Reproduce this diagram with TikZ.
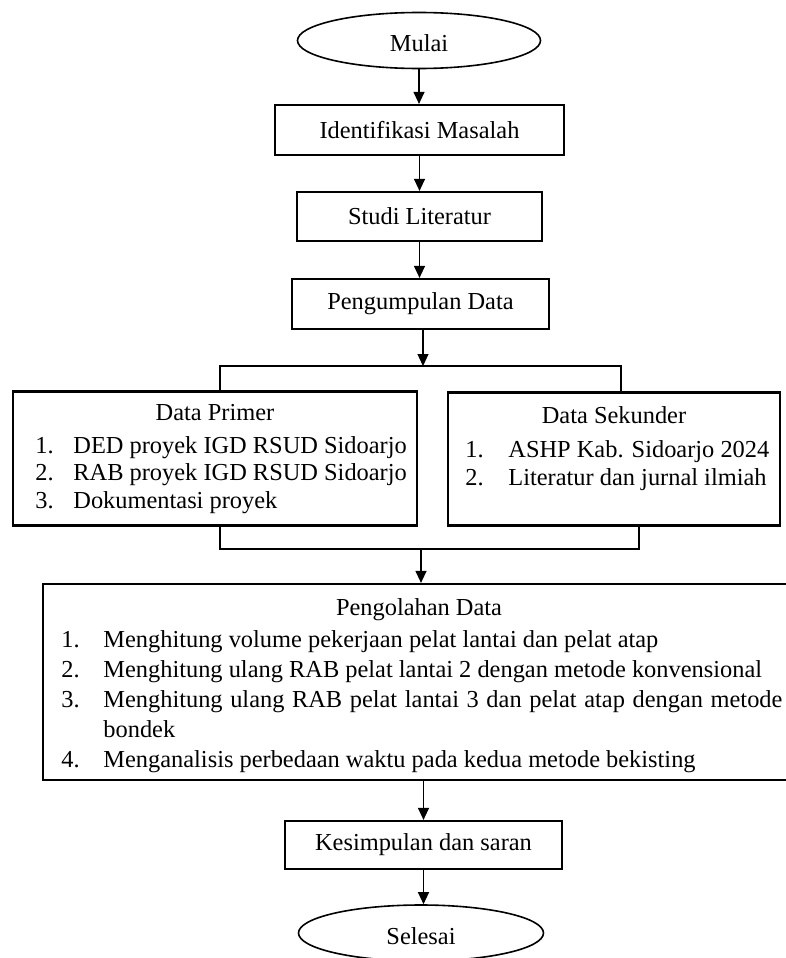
\documentclass[tikz,border=0pt]{standalone}
\usepackage{fontspec}
\setmainfont{Liberation Serif}
\usetikzlibrary{shapes.geometric,arrows.meta}
\begin{document}
\begin{tikzpicture}[x=0.5pt,y=-0.5pt,
  font=\fontsize{12.2}{14}\selectfont,
  box/.style={draw, rectangle, line width=1.1pt, inner sep=0pt},
  term/.style={draw, ellipse, line width=0.8pt, inner sep=0pt, text height=11.3pt, text depth=0pt},
  conn/.style={line width=0.6pt},
  arr/.style={conn, -{Triangle[width=5.5pt,length=6pt]}},
  lbl/.style={inner sep=0pt, anchor=base west},
  ttl/.style={inner sep=0pt, anchor=base}]
\useasboundingbox (0,0) rectangle (786,958);
\fill[white] (0,0) rectangle (786,958);

% main nodes
\node[term, minimum width=121.5pt, minimum height=28pt] (mulai) at (419,40.5) {Mulai};
\node[box, minimum width=144.5pt, minimum height=25pt] (ident) at (419.5,130) {Identifikasi Masalah};
\node[box, minimum width=122.5pt, minimum height=24.5pt] (studi) at (419.5,216.5) {Studi Literatur};
\node[box, minimum width=128.5pt, minimum height=25pt] (kumpul) at (420.5,304) {Pengumpulan Data};
\node[box, minimum width=202pt, minimum height=67pt] (primer) at (215,458.5) {};
\node[box, minimum width=166pt, minimum height=66.5pt] (sekunder) at (614,459) {};
\node[box, minimum width=376pt, minimum height=98pt] (olah) at (419,682) {};
\node[box, minimum width=138.5pt, minimum height=24pt] (kes) at (423.5,845) {Kesimpulan dan saran};
\node[term, minimum width=122.5pt, minimum height=28pt] (sel) at (421,933) {Selesai};

% Data Primer text
\node[ttl] (p0) at (215,420) {Data Primer};
\node[lbl] (p1n) at (35,453) {1.};
\node[lbl] (p1) at (73,453) {DED proyek IGD RSUD Sidoarjo};
\node[lbl] (p2n) at (35,480) {2.};
\node[lbl] (p2) at (73,480) {RAB proyek IGD RSUD Sidoarjo};
\node[lbl] (p3n) at (35,508) {3.};
\node[lbl] (p3) at (73,508) {Dokumentasi proyek};

% Data Sekunder text
\node[ttl] (s0) at (614,423) {Data Sekunder};
\node[lbl] (s1n) at (465,457) {1.};
\node[lbl] (s1) at (508,457) {ASHP Kab. Sidoarjo 2024};
\node[lbl] (s2n) at (465,485) {2.};
\node[lbl] (s2) at (508,485) {Literatur dan jurnal ilmiah};

% Pengolahan Data text
\node[ttl] (o0) at (419,615) {Pengolahan Data};
\node[lbl] (o1n) at (61,647) {1.};
\node[lbl] (o1) at (103,647) {Menghitung volume pekerjaan pelat lantai dan pelat atap};
\node[lbl] (o2n) at (61,677) {2.};
\node[lbl] (o2) at (103,677) {Menghitung ulang RAB pelat lantai 2 dengan metode konvensional};
\node[lbl] (o3n) at (61,707) {3.};
\node[lbl] (o3) at (103,707) {\makebox[339.5pt][s]{Menghitung ulang RAB pelat lantai 3 dan pelat atap dengan metode}};
\node[lbl] (o3b) at (103,737) {bondek};
\node[lbl] (o4n) at (61,767) {4.};
\node[lbl] (o4) at (103,767) {Menganalisis perbedaan waktu pada kedua metode bekisting};

% connectors
\coordinate (split) at (423,366);
\coordinate (tl) at (220,366);
\coordinate (tr) at (621,366);
\coordinate (bl) at (220,549);
\coordinate (br) at (639,549);
\coordinate (merge) at (421,549);

\draw[arr] (mulai.south) -- (mulai.south |- ident.north);
\draw[arr] (ident.south) -- (ident.south |- studi.north);
\draw[arr] (studi.south) -- (studi.south |- kumpul.north);
\draw[arr] (split |- kumpul.south) -- (split);
\draw[conn] (primer.north -| tl) -- (tl) -- (tr) -- (sekunder.north -| tr);
\draw[conn] (primer.south -| bl) -- (bl) -- (br) -- (sekunder.south -| br);
\draw[arr] (merge) -- (merge |- olah.north);
\draw[arr] (kes.north |- olah.south) -- (kes.north);
\draw[arr] (kes.south) -- (kes.south |- sel.north);
\end{tikzpicture}
\end{document}
